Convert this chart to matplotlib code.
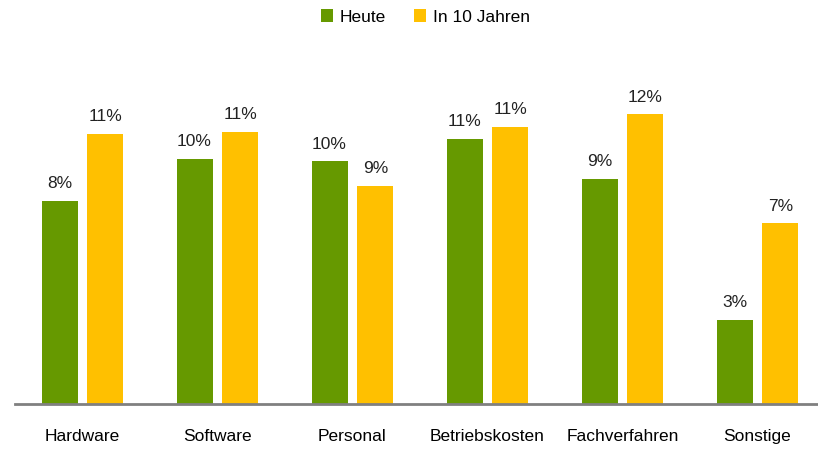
import numpy as np
import matplotlib.pyplot as plt

# data (percent)
categories = ['Hardware', 'Software', 'Personal', 'Betriebskosten', 'Fachverfahren', 'Sonstige']
heute = [8.2, 9.9, 9.8, 10.7, 9.1, 3.4]
in_10_jahren = [10.9, 11.0, 8.8, 11.2, 11.7, 7.3]
series_names = ['Heute', 'In 10 Jahren']

green = '#669900'
yellow = '#FFC000'

plt.rcParams['font.family'] = ['Liberation Sans', 'DejaVu Sans']

fig = plt.figure(figsize=(8.18, 4.5), dpi=100)
ax = fig.add_axes([15 / 818, 46 / 450, 810 / 818, 364 / 450])

x = np.arange(len(categories))
w = 0.267
off = 0.17
b1 = ax.bar(x - off, heute, w, color=green, label=series_names[0])
b2 = ax.bar(x + off, in_10_jahren, w, color=yellow, label=series_names[1])

for bars in (b1, b2):
    for r in bars:
        ax.annotate(f'{r.get_height():.0f}%', (r.get_x() + r.get_width() / 2, r.get_height()),
                    xytext=(0, 7), textcoords='offset points', ha='center', va='bottom',
                    fontsize=12.5, color='#222222')

ax.set_xlim(-0.5, len(categories) - 0.5)
ax.set_ylim(0, 14.7)
ax.set_yticks([])
ax.set_xticks(x)
ax.set_xticklabels(categories, fontsize=12.5)
ax.tick_params(axis='x', length=0, pad=18)
for s in ['top', 'right', 'left']:
    ax.spines[s].set_visible(False)
ax.spines['bottom'].set_color('#808080')
ax.spines['bottom'].set_linewidth(2)

fig.legend(handles=[b1, b2], loc='center', bbox_to_anchor=(0.52, 1 - 17 / 450), ncol=2,
           frameon=False, fontsize=12.5, handlelength=0.7, handleheight=0.7,
           columnspacing=1.6, handletextpad=0.4)

fig.savefig('out.png', dpi=100)
